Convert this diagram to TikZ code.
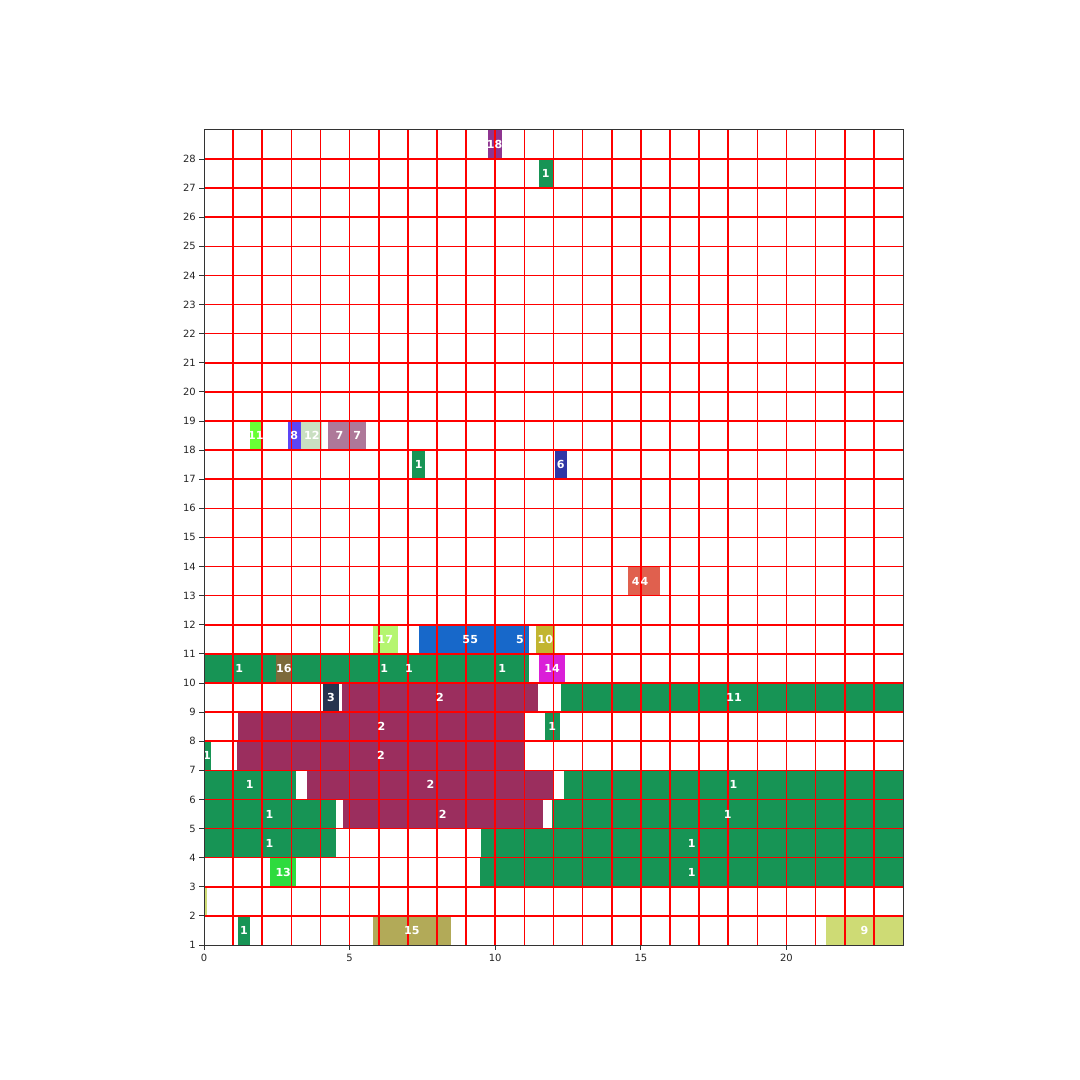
\documentclass[tikz,border=0pt]{standalone}
\usepackage{fontspec}
\setmainfont{DejaVu Sans}
\usepackage{tikz}
\usetikzlibrary{positioning}
\definecolor{BarGreen}{RGB}{23,148,85}
\definecolor{BarMaroon}{RGB}{155,46,94}
\definecolor{BarPurple}{RGB}{142,53,144}
\definecolor{BarLime}{RGB}{104,255,53}
\definecolor{BarViolet}{RGB}{92,69,245}
\definecolor{BarPale}{RGB}{201,223,193}
\definecolor{BarMauve}{RGB}{174,120,153}
\definecolor{BarIndigo}{RGB}{47,54,166}
\definecolor{BarCoral}{RGB}{224,96,78}
\definecolor{BarLight}{RGB}{181,245,112}
\definecolor{BarBlue}{RGB}{23,104,202}
\definecolor{BarMustard}{RGB}{194,181,48}
\definecolor{BarBrown}{RGB}{125,106,58}
\definecolor{BarMagenta}{RGB}{218,31,216}
\definecolor{BarNavy}{RGB}{38,52,79}
\definecolor{BarBright}{RGB}{46,219,62}
\definecolor{BarOlive}{RGB}{178,170,88}
\definecolor{BarChartreuse}{RGB}{206,219,117}

\begin{document}
\begin{tikzpicture}[
  x=0.29125in, y=0.2911in,
  lbl/.style={text=white, font=\fontsize{8}{9}\selectfont\bfseries, inner sep=0pt},
  tick/.style={font=\fontsize{7.2}{8}\selectfont, text=black!85, inner sep=0pt},
  gridline/.style={draw=red, line width=1.1pt},
  spine/.style={draw=black!80, line width=0.6pt}
]
\useasboundingbox (-2.04in,-1.059in) rectangle (8.76in,9.741in);

%% Bars, top rows first
\fill[BarPurple] (9.75,28) rectangle (10.22,29);
\fill[BarGreen] (11.5,27) rectangle (11.97,28);

\fill[BarLime] (1.58,18) rectangle (1.99,19);
\fill[BarViolet] (2.88,18) rectangle (3.33,19);
\fill[BarPale] (3.33,18) rectangle (4.06,19);
\fill[BarMauve] (4.26,18) rectangle (5.55,19);
\fill[BarGreen] (7.14,17) rectangle (7.59,18);
\fill[BarIndigo] (12.04,17) rectangle (12.46,18);

\fill[BarCoral] (14.56,13) rectangle (15.65,14);

\fill[BarLight] (5.80,11) rectangle (6.66,12);
\fill[BarBlue] (7.38,11) rectangle (11.16,12);
\fill[BarMustard] (11.4,11) rectangle (12.05,12);

\fill[BarGreen] (0,10) rectangle (11.16,11);
\fill[BarBrown] (2.47,10) rectangle (3.01,11);
\fill[BarMagenta] (11.5,10) rectangle (12.39,11);

\fill[BarNavy] (4.07,9) rectangle (4.65,10);
\fill[BarMaroon] (4.74,9) rectangle (11.47,10);
\fill[BarGreen] (12.26,9) rectangle (24,10);

\fill[BarMaroon] (1.17,8) rectangle (11.01,9);
\fill[BarGreen] (11.71,8) rectangle (12.22,9);

\fill[BarGreen] (0.02,7) rectangle (0.24,8);
\fill[BarMaroon] (1.13,7) rectangle (11.01,8);

\fill[BarGreen] (0,6) rectangle (3.16,7);
\fill[BarMaroon] (3.54,6) rectangle (12.03,7);
\fill[BarGreen] (12.36,6) rectangle (24,7);

\fill[BarGreen] (0,5) rectangle (4.53,6);
\fill[BarMaroon] (4.77,5) rectangle (11.64,6);
\fill[BarGreen] (11.96,5) rectangle (24,6);

\fill[BarGreen] (0,4) rectangle (4.53,5);
\fill[BarGreen] (9.51,4) rectangle (24,5);

\fill[BarBright] (2.27,3) rectangle (3.16,4);
\fill[BarGreen] (9.48,3) rectangle (24,4);

\fill[BarChartreuse] (0.02,2) rectangle (0.1,3);

\fill[BarGreen] (1.17,1) rectangle (1.58,2);
\fill[BarOlive] (5.80,1) rectangle (8.48,2);
\fill[BarChartreuse] (21.36,1) rectangle (24,2);

%% Grid
\foreach \gx in {1,...,23}
  \draw[gridline] (\gx,1) -- (\gx,29);
\foreach \gy in {2,...,28}
  \draw[gridline] (0,\gy) -- (24,\gy);

%% Labels
\node[lbl] (p18) at (9.98,28.5) {18};
\node[lbl] (g27) at (11.73,27.5) {1};

\node[lbl] (l11) at (1.78,18.5) {11};
\node[lbl] (v8) at (3.1,18.5) {8};
\node[lbl] (p12) at (3.7,18.5) {12};
\node[lbl] (m7a) at (4.65,18.5) {7};
\node[lbl] (m7b) at (5.26,18.5) {7};
\node[lbl] (g17) at (7.37,17.5) {1};
\node[lbl] (i6) at (12.25,17.5) {6};

\node[lbl] (c4a) at (14.82,13.5) {4};
\node[lbl] (c4b) at (15.12,13.5) {4};

\node[lbl] (l17) at (6.23,11.5) {17};
\node[lbl] (b5a) at (9.0,11.5) {5};
\node[lbl] (b5b) at (9.28,11.5) {5};
\node[lbl] (b5c) at (10.85,11.5) {5};
\node[lbl] (m10) at (11.72,11.5) {10};

\node[lbl] (g10a) at (1.21,10.5) {1};
\node[lbl] (br16) at (2.74,10.5) {16};
\node[lbl] (g10b) at (6.19,10.5) {1};
\node[lbl] (g10c) at (7.04,10.5) {1};
\node[lbl] (g10d) at (10.24,10.5) {1};
\node[lbl] (mg14) at (11.95,10.5) {14};

\node[lbl] (n3) at (4.36,9.5) {3};
\node[lbl] (r9) at (8.1,9.5) {2};
\node[lbl] (g9) at (18.2,9.5) {11};

\node[lbl] (r8) at (6.09,8.5) {2};
\node[lbl] (g8) at (11.96,8.5) {1};

\node[lbl] (g7) at (0.1,7.5) {1};
\node[lbl] (r7) at (6.08,7.5) {2};

\node[lbl] (g6a) at (1.57,6.5) {1};
\node[lbl] (r6) at (7.78,6.5) {2};
\node[lbl] (g6b) at (18.18,6.5) {1};

\node[lbl] (g5a) at (2.25,5.5) {1};
\node[lbl] (r5) at (8.2,5.5) {2};
\node[lbl] (g5b) at (17.98,5.5) {1};

\node[lbl] (g4a) at (2.25,4.5) {1};
\node[lbl] (g4b) at (16.75,4.5) {1};

\node[lbl] (bg13) at (2.72,3.5) {13};
\node[lbl] (g3) at (16.75,3.5) {1};

\node[lbl] (g1) at (1.37,1.5) {1};
\node[lbl] (o15) at (7.14,1.5) {15};
\node[lbl] (y9) at (22.68,1.5) {9};

%% Axes
\draw[spine] (0,1) rectangle (24,29);
\foreach \tx in {0,5,...,20} {
  \draw[spine] (\tx,1) -- ++(0,-0.05in);
  \node[tick, anchor=north] (xt\tx) at ([yshift=-0.09in]\tx,1) {\tx};
}
\foreach \ty in {1,...,28} {
  \draw[spine] (0,\ty) -- ++(-0.05in,0);
  \node[tick, anchor=east] (yt\ty) at ([xshift=-0.08in]0,\ty) {\ty};
}

\end{tikzpicture}
\end{document}
